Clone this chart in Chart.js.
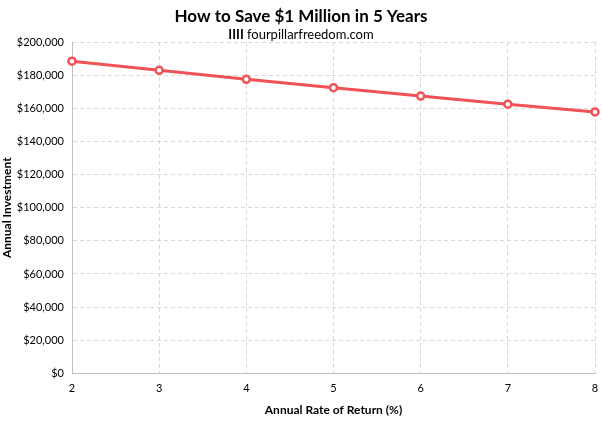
<!DOCTYPE html>
<html>
<head>
<meta charset="utf-8">
<script src="https://cdn.jsdelivr.net/npm/chart.js@4/dist/chart.umd.min.js"></script>
<style>
  html, body { margin: 0; padding: 0; background: #fff; }
  #wrap { width: 602px; height: 423px; }
</style>
</head>
<body>
<div id="wrap"><canvas id="chart" width="602" height="423"></canvas></div>
<script>
// Data
const rates = ["2", "3", "4", "5", "6", "7", "8"];
const investment = [188400, 182900, 177500, 172400, 167400, 162500, 157800];
const yTicks = [0, 20000, 40000, 60000, 80000, 100000, 120000, 140000, 160000, 180000, 200000];

const FONT = "Lato, 'Open Sans', sans-serif";
const lineRed = "#f05257";
const gridGrey = "#d9d9d9";

// subtitle with a bold "IIII" mark in front, drawn by hand
const subtitlePlugin = {
    id: "mixedSubtitle",
    afterDraw: chart => {
        const c = chart.ctx;
        const boldPart = "IIII ";
        const plainPart = "fourpillarfreedom.com";
        c.save();
        c.fillStyle = "#000";
        c.textBaseline = "middle";
        c.font = "bold 13px " + FONT;
        const w1 = c.measureText(boldPart).width;
        c.font = "13px " + FONT;
        const w2 = c.measureText(plainPart).width;
        const x0 = chart.width / 2 - (w1 + w2) / 2;
        c.font = "bold 13px " + FONT;
        c.fillText(boldPart, x0, 35);
        c.font = "13px " + FONT;
        c.fillText(plainPart, x0 + w1, 35);
        c.restore();
    }
};

const ctx = document.getElementById("chart").getContext("2d");

new Chart(ctx, {
    type: "line",
    data: {
        labels: rates,
        datasets: [{
            label: "Annual Investment",
            data: investment,
            borderColor: lineRed,
            borderWidth: 3,
            backgroundColor: "#fff",
            pointRadius: 3.5,
            pointBorderWidth: 2.5,
            pointBorderColor: lineRed,
            pointBackgroundColor: "#fff",
            tension: 0
        }]
    },
    options: {
        responsive: false,
        animation: false,
        layout: { padding: { left: 0, right: 0, top: 0, bottom: 6 } },
        plugins: {
            legend: { display: false },
            tooltip: { enabled: false },
            title: {
                display: true,
                text: "How to Save $1 Million in 5 Years",
                color: "#000",
                font: { family: FONT, size: 17, weight: "bold" },
                padding: { top: 6, bottom: 15.6 }
            }
        },
        scales: {
            x: {
                offset: false,
                afterFit: axis => { axis.paddingRight = 7; },
                grid: { color: gridGrey, drawTicks: false },
                border: { color: "#bfbfbf", dash: [4, 3] },
                ticks: {
                    color: "#000",
                    font: { family: FONT, size: 11 },
                    padding: 8,
                    maxRotation: 0
                },
                title: {
                    display: true,
                    text: "Annual Rate of Return (%)",
                    color: "#000",
                    font: { family: FONT, size: 12, weight: "bold" },
                    padding: { top: 0, bottom: 0 }
                }
            },
            y: {
                min: 0,
                max: 200000,
                afterBuildTicks: axis => {
                    axis.ticks = yTicks.map(v => ({ value: v }));
                },
                afterFit: axis => { axis.width = 72; },
                grid: { color: gridGrey, drawTicks: false },
                border: { color: "#bfbfbf", dash: [4, 3] },
                ticks: {
                    color: "#000",
                    font: { family: FONT, size: 11 },
                    padding: 8,
                    callback: v => "$" + v.toLocaleString("en-US")
                },
                title: {
                    display: true,
                    text: "Annual Investment",
                    color: "#000",
                    font: { family: FONT, size: 12, weight: "bold" },
                    padding: { top: 0, bottom: 2 }
                }
            }
        }
    },
    plugins: [subtitlePlugin]
});
</script>
</body>
</html>
